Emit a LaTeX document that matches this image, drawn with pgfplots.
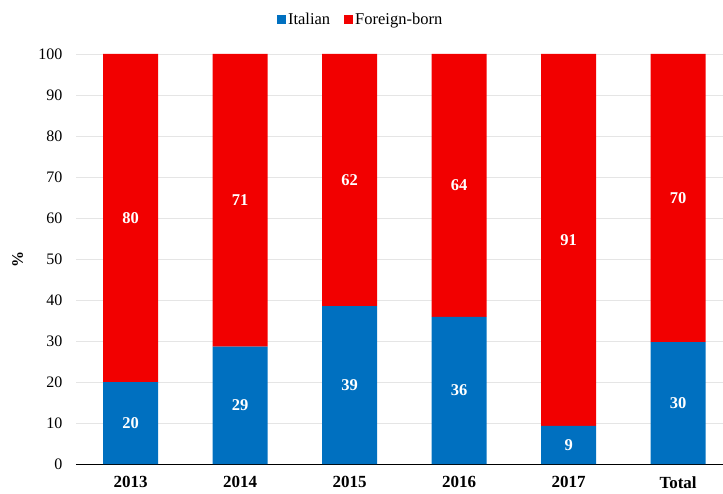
\documentclass[border=0pt]{standalone}
\usepackage{pgfplots}
\pgfplotsset{compat=1.18}
\usepackage{pgfplotstable}
\usepackage{fontspec}
\setmainfont{Liberation Serif}
\definecolor{itblue}{HTML}{0070C0}
\definecolor{fbred}{HTML}{F20000}
\pgfplotstableread{
x y lab mid
0 20.0 20 10.0
1 28.6 29 14.3
2 38.5 39 19.25
3 35.9 36 17.95
4 9.3 9 4.65
5 29.7 30 14.85
}\italian
\pgfplotstableread{
x y lab mid
0 80.0 80 60.0
1 71.4 71 64.3
2 61.5 62 69.25
3 64.1 64 67.95
4 90.7 91 54.65
5 70.3 70 64.85
}\foreign
\pgfplotsset{common/.style={
  at={(0,0)}, anchor=south west,
  scale only axis, width=647pt, height=410pt,
  xmin=-0.5, xmax=5.41, ymin=0, ymax=100,
}}
\begin{document}
\begin{tikzpicture}
\useasboundingbox (-76pt,-29pt) rectangle (647pt,464pt);
\begin{axis}[common,
  ybar stacked, bar width=55pt,
  xtick=data, xticklabels={2013,2014,2015,2016,2017,Total},
  x tick label style={font=\fontsize{17}{19}\selectfont\bfseries, yshift=-9pt},
  ytick={0,10,...,100},
  y tick label style={font=\fontsize{16}{18}\selectfont, xshift=-10pt},
  /pgf/number format/assume math mode=true,
  ylabel={\%}, ylabel style={font=\fontsize{16}{18}\selectfont\bfseries, at={(axis description cs:-0.09,0.5)}, anchor=center},
  ymajorgrids, grid style={draw=gray!20, line width=0.8pt},
  axis y line=left, axis x line=bottom,
  y axis line style={draw=none}, x axis line style={-, line width=0.8pt},
  tick style={draw=none}, major tick length=0pt,
  legend style={at={(0.44,1.085)}, anchor=center, draw=none, legend columns=2,
    font=\fontsize{16.5}{18}\selectfont, /tikz/every even column/.append style={column sep=12pt}},
  legend image code/.code={\fill[#1] (0pt,-5pt) rectangle (9pt,4pt);},
]
\addplot[fill=itblue, draw=none] table[x=x, y=y] {\italian};
\addplot[fill=fbred, draw=none] table[x=x, y=y] {\foreign};
\legend{Italian, Foreign-born}
\end{axis}
\begin{axis}[common, hide axis,
  nodes near coords, point meta=explicit symbolic,
  every node near coord/.append style={font=\fontsize{16.5}{18}\selectfont\bfseries, text=white, anchor=center},
]
\addplot[only marks, mark=none] table[x=x, y=mid, meta=lab] {\italian};
\addplot[only marks, mark=none] table[x=x, y=mid, meta=lab] {\foreign};
\end{axis}
\end{tikzpicture}
\end{document}
